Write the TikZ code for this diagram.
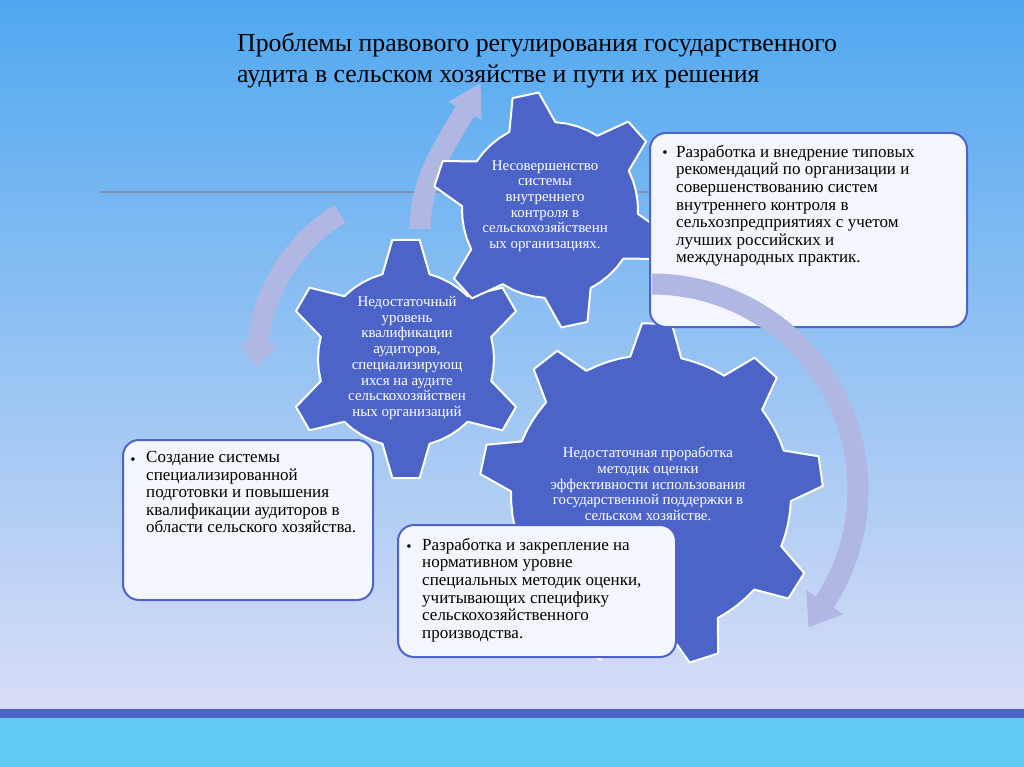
\documentclass[tikz,border=0pt]{standalone}
\usepackage{fontspec}
\setmainfont{Liberation Serif}
\definecolor{gearblue}{RGB}{76,100,200}
\definecolor{arrowcol}{RGB}{176,183,226}
\definecolor{bgtop}{RGB}{80,168,240}
\definecolor{bgmid}{RGB}{165,189,240}
\definecolor{bgbot}{RGB}{217,221,246}
\definecolor{bandblue}{RGB}{75,99,198}
\definecolor{bandcyan}{RGB}{95,203,242}
\definecolor{boxborder}{RGB}{78,98,200}
\definecolor{boxfill}{RGB}{244,246,253}
\definecolor{rulecol}{RGB}{130,145,170}
\newcommand\gearshape[8]{%
  \pgfmathsetmacro\gst{360/#5}%
  \pgfmathsetmacro\gsub{(\gst-2*#7)/4}%
  \draw[gear] ({#1+#3*cos(#6-#7)},{#2-#3*sin(#6-#7)})
    \foreach \k in {1,...,#5}{
      -- ({#1+#4*cos(#6+(\k-1)*\gst-#8)},{#2-#4*sin(#6+(\k-1)*\gst-#8)})
      -- ({#1+#4*cos(#6+(\k-1)*\gst+#8)},{#2-#4*sin(#6+(\k-1)*\gst+#8)})
      -- ({#1+#3*cos(#6+(\k-1)*\gst+#7)},{#2-#3*sin(#6+(\k-1)*\gst+#7)})
      -- ({#1+#3*cos(#6+(\k-1)*\gst+#7+\gsub)},{#2-#3*sin(#6+(\k-1)*\gst+#7+\gsub)})
      -- ({#1+#3*cos(#6+(\k-1)*\gst+#7+2*\gsub)},{#2-#3*sin(#6+(\k-1)*\gst+#7+2*\gsub)})
      -- ({#1+#3*cos(#6+(\k-1)*\gst+#7+3*\gsub)},{#2-#3*sin(#6+(\k-1)*\gst+#7+3*\gsub)})
      -- ({#1+#3*cos(#6+\k*\gst-#7)},{#2-#3*sin(#6+\k*\gst-#7)})
    } -- cycle;}
\begin{document}
\begin{tikzpicture}[x=1pt,y=-1pt,
  gear/.style={fill=gearblue,draw=white,line width=2pt,line join=round},
  geartext/.style={text=white,align=center,inner sep=0pt,font=\fontsize{14.9}{15.7}\selectfont},
  infobox/.style={draw=boxborder,fill=boxfill,line width=2pt,rounded corners=16pt},
  boxtext/.style={anchor=north west,align=left,inner sep=0pt,font=\fontsize{17}{17.6}\selectfont},
  bullet/.style={anchor=base,inner sep=0pt,font=\fontsize{15}{15}\selectfont},
  arrowbody/.style={draw=arrowcol,line width=21pt,line cap=butt},
  arrowhead/.style={fill=arrowcol}]
\useasboundingbox (0,0) rectangle (1024,767);
% background
\shade[top color=bgtop,middle color=bgmid,bottom color=bgbot] (0,0) rectangle (1024,710);
\fill[bandblue] (0,709) rectangle (1024,718);
\fill[bandcyan] (0,718) rectangle (1024,767);
\draw[rulecol,line width=1.2pt] (100,192) -- (650,192);
% title
\node[anchor=north west,align=left,inner sep=0pt,font=\fontsize{25.8}{31}\selectfont] (title) at (237,32.5)
  {Проблемы правового регулирования государственного\\аудита в сельском хозяйстве и пути их решения};
% arrows behind gears
\coordinate (aS) at (420,229); \coordinate (aE) at (465,111);
\draw[arrowbody] (aS) .. controls (420,182) and (443,148) .. (aE);
\fill[arrowhead] (448.4,101.8) -- (480.5,83) -- (481.6,120.2) -- cycle;
\coordinate (bS) at (340,214); \coordinate (bE) at (258.5,344.5);
\draw[arrowbody] (bS) .. controls (296,240) and (262,290) .. (bE);
\fill[arrowhead] (238.5,343) -- (256,366) -- (278.5,346) -- cycle;
% gears
\gearshape{651}{495}{140}{172}{9}{8}{10.5}{5}
\gearshape{406}{359}{88}{120}{6}{90}{15.5}{6.5}
\gearshape{550}{210}{88}{118}{6}{42}{15.5}{6.5}
\node[geartext] (g1) at (545,206) {Несовершенство\\системы\\внутреннего\\контроля в\\сельскохозяйственн\\ых организациях.};
\node[geartext] (g2) at (407,358) {Недостаточный\\уровень\\квалификации\\аудиторов,\\специализирующ\\ихся на аудите\\сельскохозяйствен\\ных организаций};
\node[geartext] (g3) at (648,484) {Недостаточная проработка\\методик оценки\\эффективности использования\\государственной поддержки в\\сельском хозяйстве.};
% boxes
\draw[infobox] (650,133) rectangle (967,327);
\draw[infobox] (123,440) rectangle (373,600);
\draw[infobox] (398,525) rectangle (676,657);
\node[bullet] (u1) at (665,158) {•};
\node[boxtext] (t1) at (676,145) {Разработка и внедрение типовых\\рекомендаций по организации и\\совершенствованию систем\\внутреннего контроля в\\сельхозпредприятиях с учетом\\лучших российских и\\международных практик.};
\node[bullet] (u2) at (133,464) {•};
\node[boxtext] (t2) at (146,451) {Создание системы\\специализированной\\подготовки и повышения\\квалификации аудиторов в\\области сельского хозяйства.};
\node[bullet] (u3) at (409,551) {•};
\node[boxtext] (t3) at (422,538) {Разработка и закрепление на\\нормативном уровне\\специальных методик оценки,\\учитывающих специфику\\сельскохозяйственного\\производства.};
% arrow over box 1
\coordinate (cE) at (824.8,602.2);
\draw[arrowbody] plot[domain=90:-33,samples=60] ({652+206*cos(\x)},{490-206*sin(\x)});
\fill[arrowhead] (806.3,590.2) -- (808.5,627.4) -- (843.3,614.2) -- cycle;
\end{tikzpicture}
\end{document}
